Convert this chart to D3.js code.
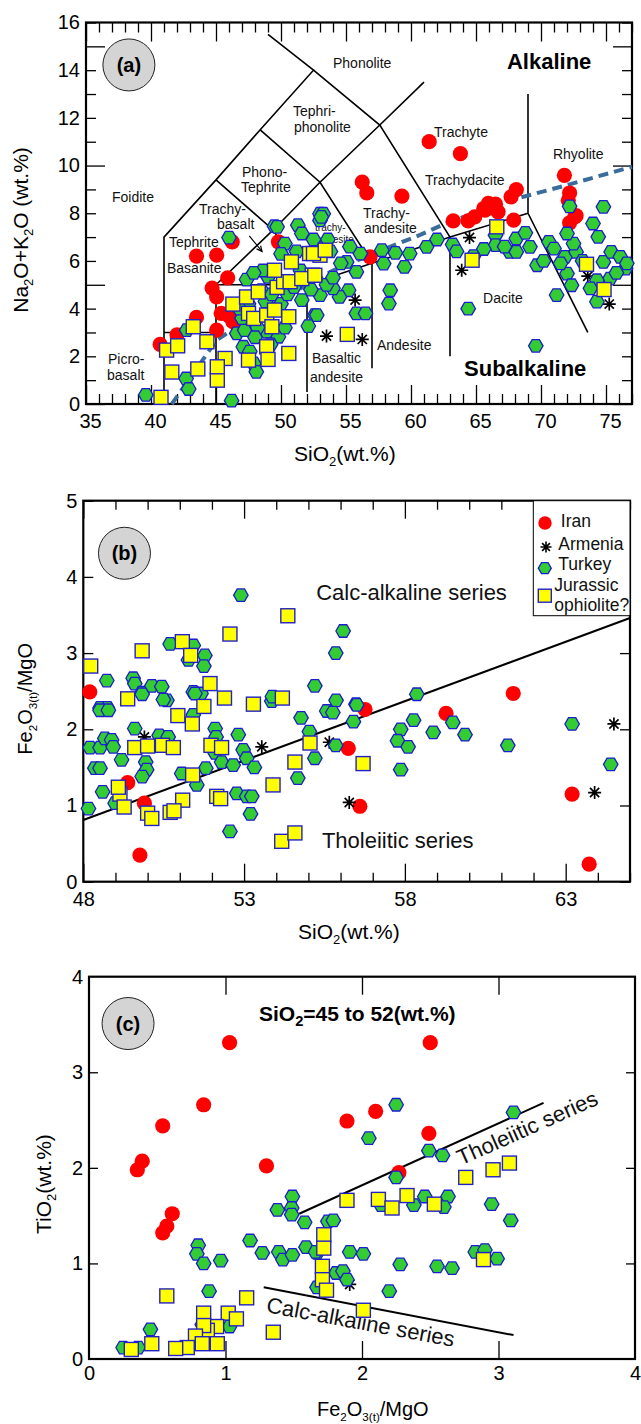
<!DOCTYPE html>
<html>
<head>
<meta charset="utf-8">
<title>Geochemical discrimination diagrams</title>
<script src="https://cdn.jsdelivr.net/npm/d3@7/dist/d3.min.js"></script>
<style>
  html, body { margin: 0; padding: 0; background: #fff; }
  svg { display: block; font-family: "Liberation Sans", Arial, Helvetica, sans-serif; }
</style>
</head>
<body>
<svg id="fig" width="641" height="1424"></svg>
<script>
// ================= DATA =================
// (a) Total alkali vs silica: [SiO2, Na2O+K2O]
const tasIran = [[40.7,2.5],[42.0,2.9],[43.5,3.63],[43.5,6.2],[45.05,6.24],[46.25,6.8],[45.9,5.29],[44.7,4.86],[45.05,4.49],[45.4,3.8],[45.05,3.1],[46.3,3.45],[46.0,3.7],[49.8,6.8],[56.85,6.17],[61.4,11.0],[63.8,10.5],[56.25,9.31],[56.6,8.85],[59.3,8.72],[68.1,8.99],[67.7,8.69],[65.95,8.41],[66.5,8.38],[66.7,8.06],[65.7,8.13],[67.9,7.71],[63.25,7.68],[64.4,7.68],[64.9,7.85],[65.6,8.2],[71.8,9.59],[72.2,8.85],[72.1,8.54],[72.6,7.85],[72.2,7.6],[72.7,7.9]];
const tasArmenia = [[64.5,6.98],[63.9,5.61],[55.7,4.36],[53.5,2.85],[56.25,2.71],[73.6,5.36],[75.25,4.19]];
const tasTurkey = [[39.6,0.38],[42.7,1.07],[42.9,0.63],[46.2,0.14],[46.0,6.98],[42.75,3.1],[46.6,2.96],[47.1,2.4],[47.2,3.1],[47.9,1.7],[48.1,1.35],[48.9,3.03],[49.8,2.82],[47.35,5.22],[48.5,4.77],[49.0,5.33],[49.5,7.46],[50.3,6.73],[51.3,7.5],[51.6,7.15],[53.0,7.98],[51.6,4.36],[52.6,3.73],[52.1,3.27],[52.0,5.33],[53.0,4.57],[53.25,7.98],[53.0,7.7],[56.1,6.31],[55.8,5.54],[55.2,4.77],[54.5,4.49],[55.8,3.8],[56.5,3.8],[52.75,3.73],[54.0,4.85],[55.05,5.96],[57.75,6.45],[57.9,5.89],[58.8,6.34],[59.9,6.31],[59.5,5.75],[61.2,6.59],[63.2,6.69],[58.4,4.77],[58.3,4.21],[64.4,4.0],[66.5,7.08],[66.5,6.66],[67.6,6.38],[68.1,6.94],[68.8,7.18],[69.15,6.59],[68.1,6.38],[69.7,5.82],[70.6,6.8],[71.0,6.52],[71.85,6.17],[72.7,6.38],[72.5,6.73],[72.0,5.47],[72.35,4.98],[71.2,4.57],[72.0,7.15],[74.0,7.57],[74.4,7.01],[74.8,5.96],[75.4,6.38],[76.1,6.17],[76.5,5.68],[76.6,5.9],[75.3,5.26],[74.3,5.19],[74.3,4.29],[73.8,4.85],[69.6,2.44],[74.8,8.27],[72.2,8.29],[49.7,7.43],[53.1,7.85],[47.5,4.2],[48.2,3.2],[48.8,4.3],[49.3,4.6],[50.0,4.2],[50.5,4.6],[51.0,4.9],[51.5,5.6],[52.3,4.8],[53.5,5.0],[54.0,5.3],[54.6,5.9],[53.8,6.4],[55.3,6.6],[51.2,6.4],[50.0,6.3],[48.6,5.6],[47.9,5.5],[47.0,3.6],[48.0,2.8],[49.2,2.5],[47.6,2.2],[50.3,3.2],[46.8,4.0],[63.5,6.4],[64.8,6.2],[65.6,6.5],[67.2,6.6],[62.0,6.9],[70.2,6.0],[71.5,5.9],[73.2,6.0],[75.8,5.5],[53.6,6.9],[52.5,6.9]];
const tasJurassic = [[40.77,0.28],[41.2,2.26],[42.05,2.44],[43.25,3.24],[44.3,2.61],[41.6,1.34],[43.6,1.47],[45.1,1.0],[45.7,1.91],[45.1,1.56],[46.3,4.19],[47.35,4.49],[48.25,4.7],[47.5,3.8],[47.9,3.59],[48.9,3.73],[49.5,3.94],[49.7,4.89],[50.2,5.13],[49.5,5.61],[50.8,5.96],[50.7,5.13],[50.6,3.66],[49.3,3.24],[47.5,1.84],[48.9,2.4],[49.0,1.87],[50.6,2.12],[52.2,6.31],[53.0,6.24],[52.4,5.4],[51.6,5.26],[52.5,6.31],[52.6,5.4],[53.4,6.45],[66.6,7.43],[64.7,6.03],[73.5,5.86],[74.85,4.8],[55.1,2.92]];

// TAS field boundaries (SiO2, Na2O+K2O)
const tasBoundaries = [
  [[41,0],[41,7],[45,9.4],[48.4,11.5],[52.5,14],[49,15.5]],
  [[41,3],[45,3]],
  [[45,0],[45,5],[52,5]],
  [[45,5],[49.4,7.3],[53,9.3],[57.6,11.7],[61,13.5]],
  [[45,9.4],[49.4,7.3],[52,5],[57,5.9],[63,7],[69,8]],
  [[48.4,11.5],[53,9.3],[57,5.9]],
  [[52.5,14],[57.6,11.7],[63,7]],
  [[52,5],[52,0.5]],
  [[57,5.9],[57,1.5]],
  [[63,7],[63,2]],
  [[69,8],[69,13]],
  [[69,8],[73.6,3]]
];
// Alkaline / subalkaline divide
const alkalineDivide = [[41.6,0],[45.05,2.68],[46.5,3.2],[50,4.4],[54,5.6],[58.1,6.53],[60.7,7.09],[62.7,7.58],[67.6,8.54],[72,9.18],[77,9.95]];

const tasFieldNames = [
  {t:"Phonolite", x:54.0, y:14.09}, {t:"Tephri-", x:50.92, y:12.06}, {t:"phonolite", x:51.0, y:11.39},
  {t:"Phono-", x:47.0, y:9.54}, {t:"Tephrite", x:46.92, y:8.88}, {t:"Foidite", x:37.0, y:8.49},
  {t:"Trachy-", x:43.69, y:7.98}, {t:"basalt", x:45.08, y:7.33}, {t:"Tephrite", x:41.38, y:6.6},
  {t:"Basanite", x:41.23, y:5.49}, {t:"Picro-", x:36.69, y:1.68}, {t:"basalt", x:36.62, y:1.02},
  {t:"Basaltic", x:52.38, y:1.72}, {t:"andesite", x:52.23, y:0.94}, {t:"Andesite", x:57.38, y:2.27},
  {t:"Dacite", x:65.54, y:4.24}, {t:"Trachy-", x:56.31, y:7.82}, {t:"andesite", x:56.38, y:7.16},
  {t:"Trachydacite", x:61.08, y:9.19}, {t:"Trachyte", x:61.77, y:11.21}, {t:"Rhyolite", x:70.92, y:10.28}
];
const tasSmallNames = [{t:"trachy-", x:52.62, y:7.26}, {t:"andesite", x:52.69, y:6.77}];
const tasSeriesNames = [{t:"Alkaline", x:67.38, y:14.04}, {t:"Subalkaline", x:64.08, y:1.17}];
const tasArrow = [[47.56,7.05],[48.54,6.40]];

// (b) Fe2O3(t)/MgO vs SiO2: [SiO2, Fe2O3/MgO]
const feIran = [[48.2,2.49],[49.38,1.30],[49.9,1.03],[49.76,0.35],[56.76,2.26],[56.24,1.75],[56.6,0.99],[59.28,2.21],[61.37,2.47],[63.2,1.15],[63.73,0.23]];
const feArmenia = [[49.9,1.9],[53.55,1.77],[55.65,1.83],[56.27,1.04],[64.5,2.07],[63.9,1.17]];
const feTurkey = [[52.9,3.76],[50.7,3.12],[51.42,3.10],[51.27,2.91],[51.78,2.97],[51.75,2.83],[48.73,2.64],[49.55,2.67],[49.6,2.60],[49.82,2.48],[50.13,2.57],[50.44,2.56],[50.6,2.38],[51.42,2.49],[51.66,2.47],[55.2,2.57],[53.86,2.37],[48.52,2.28],[48.75,2.28],[56.08,3.29],[55.85,3.0],[55.86,2.38],[56.48,2.33],[58.37,2.46],[48.52,2.25],[48.78,2.25],[49.83,2.46],[50.49,2.39],[51.47,2.47],[48.21,1.76],[48.52,1.76],[48.67,1.88],[48.88,1.86],[48.93,1.77],[48.36,1.49],[48.52,1.49],[48.6,1.18],[48.16,0.96],[48.99,1.03],[49.6,2.01],[49.19,1.60],[49.94,1.57],[49.97,1.47],[49.83,1.38],[50.36,1.92],[50.64,1.90],[51.06,1.42],[51.53,1.27],[51.42,2.19],[52.1,2.01],[52.13,1.90],[52.1,1.69],[52.3,1.57],[51.81,1.49],[52.66,1.53],[52.82,1.93],[52.97,1.73],[53.08,1.62],[53.32,1.50],[52.77,1.16],[53.08,1.12],[53.24,1.12],[53.2,0.89],[52.56,0.66],[53.88,2.43],[54.77,2.15],[55.03,1.97],[55.2,1.62],[54.67,1.36],[55.57,2.24],[55.76,2.22],[56.5,2.32],[56.4,2.10],[58.27,2.12],[57.87,2.0],[57.77,1.85],[58.1,1.77],[57.87,1.47],[58.88,1.96],[59.49,2.09],[59.87,1.93],[55.85,1.79],[61.2,1.79],[63.2,2.07],[64.4,1.54]];
const feJurassic = [[48.23,2.83],[49.83,3.03],[51.08,3.15],[51.34,2.97],[52.56,3.25],[54.36,3.49],[49.38,2.40],[51.94,2.60],[52.39,2.41],[53.29,2.33],[54.19,2.41],[51.75,2.30],[50.94,2.18],[51.39,2.07],[49.6,1.76],[50.0,1.78],[50.46,1.79],[50.8,1.76],[51.97,1.79],[52.3,1.76],[55.05,1.82],[54.58,1.57],[53.9,1.27],[51.4,1.40],[51.09,1.07],[49.14,1.15],[49.09,1.24],[49.27,0.98],[50.0,0.90],[50.13,0.83],[50.7,0.91],[50.82,0.93],[52.15,1.12],[52.27,1.09],[54.17,0.53],[54.58,0.64],[56.7,1.55]];
const feDivide = [[48,0.81],[65,3.46]];
const seriesNamesB = [{t:"Calc-alkaline series", x:55.24, y:3.70}, {t:"Tholeiitic series", x:55.42, y:0.44}];
const legendNames = ["Iran","Armenia","Turkey","Jurassic","ophiolite?"];

// (c) TiO2 vs Fe2O3(t)/MgO, SiO2 = 45-52 wt.%
const tiIran = [[1.03,3.31],[0.84,2.66],[0.54,2.44],[0.39,2.07],[0.354,1.98],[1.30,2.02],[2.50,3.31],[1.89,2.49],[2.10,2.59],[2.49,2.36],[2.27,1.95],[0.61,1.52],[0.57,1.39],[0.54,1.32]];
const tiArmenia = [[1.91,0.78]];
const tiTurkey = [[2.25,2.66],[2.05,2.31],[3.11,2.58],[2.49,2.18],[2.59,2.13],[2.25,1.90],[1.49,1.70],[1.38,1.56],[1.485,1.58],[1.485,1.51],[1.58,1.43],[1.75,1.44],[1.18,1.24],[1.27,1.11],[1.39,1.12],[1.42,1.04],[1.49,1.09],[1.59,1.17],[1.67,1.11],[1.67,0.75],[0.80,1.19],[0.79,1.10],[0.84,1.0],[0.965,1.03],[0.88,0.71],[0.45,0.31],[0.25,0.12],[0.36,0.12],[1.03,0.34],[0.83,0.36],[1.79,1.45],[1.66,1.12],[1.91,1.12],[2.01,1.10],[1.81,0.90],[1.86,0.92],[1.89,0.83],[2.28,0.99],[2.20,0.71],[2.55,0.97],[2.66,0.95],[2.46,1.70],[2.63,1.70],[2.38,1.61],[2.60,1.59],[2.14,1.61],[2.95,1.62],[3.09,1.45],[2.83,1.12],[2.90,1.14],[2.99,1.05]];
const tiJurassic = [[2.76,1.90],[2.96,1.98],[3.08,2.05],[0.57,0.66],[1.155,0.64],[0.84,0.48],[1.02,0.48],[1.08,0.42],[0.935,0.34],[0.867,0.30],[0.84,0.35],[0.78,0.24],[0.83,0.16],[0.94,0.16],[0.72,0.12],[0.635,0.11],[0.46,0.16],[0.31,0.10],[1.35,0.28],[1.72,1.30],[1.72,1.16],[1.71,0.97],[1.71,0.83],[1.74,0.72],[1.89,1.66],[2.12,1.67],[2.22,1.58],[2.33,1.71],[2.53,1.62],[2.89,1.04],[2.01,0.51]];
const tiTholeiiticLine = [[1.54,1.52],[3.33,2.68]];
const tiCalcAlkLine = [[1.28,0.75],[3.11,0.25]];

// ================= DRAWING =================
const FONT = '"Liberation Sans", Arial, Helvetica, sans-serif';
const svg = d3.select('#fig');
const COL = { iran:'#ff0000', hexFill:'#33cc33', hexStroke:'#1c1cd0', sqFill:'#ffff00', sqStroke:'#2222c4', dash:'#3b6d9c' };

function hexPath(w, h) {
  return `M${-w/2},0L${-w/4},${-h/2}L${w/4},${-h/2}L${w/2},0L${w/4},${h/2}L${-w/4},${h/2}Z`;
}
function starPath(r) {
  const d = r * Math.SQRT1_2;
  return `M${-r},0H${r}M0,${-r}V${r}M${-d},${-d}L${d},${d}M${-d},${d}L${d},${-d}`;
}

function addAxis(g, kind, scale, shift, values, size, withLabels, pad, dx) {
  const make = {bottom:d3.axisBottom, top:d3.axisTop, left:d3.axisLeft, right:d3.axisRight}[kind];
  const gen = make(scale).tickValues(values).tickSize(-size).tickPadding(pad || 6)
    .tickFormat(withLabels ? d3.format('d') : () => '');
  const tr = (kind === 'bottom' || kind === 'top') ? `translate(0,${shift})` : `translate(${shift},0)`;
  const a = g.append('g').attr('transform', tr).call(gen);
  a.select('.domain').remove();
  a.selectAll('line').attr('stroke', '#000').attr('stroke-width', 1.3);
  a.selectAll('text').attr('font-size', 20).attr('font-family', FONT).attr('fill', '#000');
  if (dx) a.selectAll('text').attr('dx', dx);
  return a;
}

function rich(text, parts, size, subScale) {
  const s = subScale || 0.62;
  let down = false;
  parts.forEach(([str, sub]) => {
    const t = text.append('tspan').text(str).attr('font-size', sub ? size * s : size);
    if (sub && !down) { t.attr('dy', size * 0.26); down = true; }
    else if (!sub && down) { t.attr('dy', -size * 0.26); down = false; }
  });
}

function badge(g, cx, cy, label) {
  g.append('circle').attr('cx', cx).attr('cy', cy).attr('r', 26)
    .attr('fill', '#d4d4d4').attr('stroke', '#222').attr('stroke-width', 1);
  g.append('text').attr('x', cx).attr('y', cy + 7).attr('text-anchor', 'middle')
    .attr('font-size', 20).attr('font-weight', 'bold').attr('font-family', FONT).text(label);
}

function drawPoints(g, x, y, sets, sz) {
  g.append('g').selectAll('circle').data(sets.iran).join('circle')
    .attr('cx', d => x(d[0])).attr('cy', d => y(d[1])).attr('r', sz.r).attr('fill', COL.iran);
  g.append('g').selectAll('path').data(sets.armenia).join('path')
    .attr('transform', d => `translate(${x(d[0])},${y(d[1])})`).attr('d', starPath(sz.star))
    .attr('fill', 'none').attr('stroke', '#000').attr('stroke-width', 1.7);
  g.append('g').selectAll('path').data(sets.turkey).join('path')
    .attr('transform', d => `translate(${x(d[0])},${y(d[1])})`).attr('d', hexPath(sz.hw, sz.hh))
    .attr('fill', COL.hexFill).attr('stroke', COL.hexStroke).attr('stroke-width', 1.3);
  g.append('g').selectAll('rect').data(sets.jura).join('rect')
    .attr('x', d => x(d[0]) - sz.sq / 2).attr('y', d => y(d[1]) - sz.sq / 2)
    .attr('width', sz.sq).attr('height', sz.sq)
    .attr('fill', COL.sqFill).attr('stroke', COL.sqStroke).attr('stroke-width', 1.4);
}

function frame(g, x, y) {
  g.append('rect').attr('x', x.range()[0]).attr('y', y.range()[1])
    .attr('width', x.range()[1] - x.range()[0]).attr('height', y.range()[0] - y.range()[1])
    .attr('fill', 'none').attr('stroke', '#000').attr('stroke-width', 2.2);
}

const line = (x, y) => d3.line().x(d => x(d[0])).y(d => y(d[1]));
const SZ = { r: 7.6, star: 6.5, hw: 14.5, hh: 12.5, sq: 14 };

// ---------- (a) TAS ----------
{
  const x = d3.scaleLinear([35, 77], [86, 632]);
  const y = d3.scaleLinear([0, 16], [404, 22.5]);
  const g = svg.append('g');

  const xMinor = d3.range(35, 78).filter(v => v % 5 !== 0);
  const xMajor = d3.range(35, 77, 5);
  const yMinor = d3.range(0, 17).filter(v => v % 5 !== 0);
  const yMajor = [0, 5, 10, 15];
  addAxis(g, 'bottom', x, 404, xMinor, 10, false);
  addAxis(g, 'bottom', x, 404, xMajor, 19, true, 10, 4);
  addAxis(g, 'top', x, 22.5, xMinor, 10, false);
  addAxis(g, 'top', x, 22.5, xMajor, 19, false);
  addAxis(g, 'left', y, 86, yMinor, 10, false);
  addAxis(g, 'left', y, 86, yMajor, 19, false);
  addAxis(g, 'left', y, 86, d3.range(0, 17, 2), 0, true, 6);
  addAxis(g, 'right', y, 632, yMinor, 10, false);
  addAxis(g, 'right', y, 632, yMajor, 19, false);
  frame(g, x, y);

  g.append('g').selectAll('path').data(tasBoundaries).join('path')
    .attr('d', line(x, y)).attr('fill', 'none').attr('stroke', '#000').attr('stroke-width', 1.6);

  g.selectAll('text.field').data(tasFieldNames).join('text').attr('class', 'field')
    .attr('x', d => x(d.x)).attr('y', d => y(d.y)).attr('font-size', 14).attr('fill', '#111').text(d => d.t);
  g.selectAll('text.small').data(tasSmallNames).join('text').attr('class', 'small')
    .attr('x', d => x(d.x)).attr('y', d => y(d.y)).attr('font-size', 10).attr('fill', '#111').text(d => d.t);
  g.selectAll('text.series').data(tasSeriesNames).join('text').attr('class', 'series')
    .attr('x', d => x(d.x)).attr('y', d => y(d.y)).attr('font-size', 22).attr('font-weight', 'bold').text(d => d.t);

  // arrow from the trachybasalt label
  const [p0, p1] = tasArrow.map(d => [x(d[0]), y(d[1])]);
  g.append('line').attr('x1', p0[0]).attr('y1', p0[1]).attr('x2', p1[0]).attr('y2', p1[1])
    .attr('stroke', '#000').attr('stroke-width', 1.2);
  const ang = Math.atan2(p1[1] - p0[1], p1[0] - p0[0]);
  const hl = 6, hw = 0.45;
  g.append('path').attr('d', `M${p1[0] - hl*Math.cos(ang - hw)},${p1[1] - hl*Math.sin(ang - hw)}L${p1[0]},${p1[1]}L${p1[0] - hl*Math.cos(ang + hw)},${p1[1] - hl*Math.sin(ang + hw)}`)
    .attr('fill', 'none').attr('stroke', '#000').attr('stroke-width', 1.2);

  g.append('path').datum(alkalineDivide).attr('d', line(x, y))
    .attr('fill', 'none').attr('stroke', COL.dash).attr('stroke-width', 4).attr('stroke-dasharray', '10,6');

  drawPoints(g, x, y, { iran: tasIran, armenia: tasArmenia, turkey: tasTurkey, jura: tasJurassic }, SZ);

  badge(g, x(38.3), y(14.22), '(a)');

  const yt = g.append('text').attr('transform', `translate(28,${y(7.3)}) rotate(-90)`)
    .attr('text-anchor', 'middle').attr('font-family', FONT);
  rich(yt, [['Na',0],['2',1],['O+K',0],['2',1],['O (wt.%)',0]], 21);
  const xt = g.append('text').attr('x', 294).attr('y', 461).attr('font-family', FONT);
  rich(xt, [['SiO',0],['2',1],['(wt.%)',0]], 21);
}

// ---------- (b) Fe2O3/MgO vs SiO2 ----------
{
  const x = d3.scaleLinear([48, 65], [83.3, 630]);
  const y = d3.scaleLinear([0, 5], [881.7, 500.7]);
  const g = svg.append('g');

  const xMajor = [48, 53, 58, 63];
  const xMinor = d3.range(48, 66).filter(v => !xMajor.includes(v));
  addAxis(g, 'bottom', x, 881.7, xMinor, 9, false);
  addAxis(g, 'bottom', x, 881.7, xMajor, 18, true, 10);
  addAxis(g, 'top', x, 500.7, xMinor, 9, false);
  addAxis(g, 'top', x, 500.7, xMajor, 18, false);
  addAxis(g, 'left', y, 83.3, d3.range(0, 6), 10, true, 6);
  addAxis(g, 'right', y, 630, d3.range(0, 6), 10, false);
  frame(g, x, y);

  g.append('path').datum(feDivide).attr('d', line(x, y))
    .attr('fill', 'none').attr('stroke', '#000').attr('stroke-width', 2);

  g.selectAll('text.series').data(seriesNamesB).join('text').attr('class', 'series')
    .attr('x', d => x(d.x)).attr('y', d => y(d.y)).attr('font-size', 22).attr('fill', '#111').text(d => d.t);

  drawPoints(g, x, y, { iran: feIran, armenia: feArmenia, turkey: feTurkey, jura: feJurassic }, SZ);

  // legend
  const L = g.append('g').attr('transform', `translate(533.3,500.7)`);
  L.append('rect').attr('x', 0).attr('y', 0).attr('width', 630 - 533.3).attr('height', 115)
    .attr('fill', '#fff').attr('stroke', '#000').attr('stroke-width', 1);
  L.append('circle').attr('cx', 11.7).attr('cy', 22.3).attr('r', 6.7).attr('fill', COL.iran);
  L.append('path').attr('transform', 'translate(12.7,46.3)').attr('d', starPath(5.5))
    .attr('stroke', '#000').attr('stroke-width', 1.6).attr('fill', 'none');
  L.append('path').attr('transform', 'translate(11.5,67.5)').attr('d', hexPath(13, 11))
    .attr('fill', COL.hexFill).attr('stroke', COL.hexStroke).attr('stroke-width', 1.3);
  L.append('rect').attr('x', 5).attr('y', 88.5).attr('width', 13).attr('height', 13)
    .attr('fill', COL.sqFill).attr('stroke', COL.sqStroke).attr('stroke-width', 1.4);
  const lx = [27.5, 25, 25, 21, 21], ly = [26.5, 49.5, 69, 90.5, 110.5];
  legendNames.forEach((t, i) => L.append('text').attr('x', lx[i]).attr('y', ly[i])
    .attr('font-size', 17.5).attr('fill', '#111').text(t));

  badge(g, x(49.28), y(4.31), '(b)');

  const yt = g.append('text').attr('transform', `translate(32,${y(2.4)}) rotate(-90)`)
    .attr('text-anchor', 'middle').attr('font-family', FONT);
  rich(yt, [['Fe',0],['2',1],['O',0],['3(t)',1],['/MgO',0]], 20, 0.58);
  const xt = g.append('text').attr('x', 298).attr('y', 939).attr('font-family', FONT);
  rich(xt, [['SiO',0],['2',1],['(wt.%)',0]], 21);
}

// ---------- (c) TiO2 vs Fe2O3/MgO ----------
{
  const x = d3.scaleLinear([0, 4], [89, 635]);
  const y = d3.scaleLinear([0, 4], [1359, 976.7]);
  const g = svg.append('g');

  addAxis(g, 'bottom', x, 1359, [1, 2, 3], 18, false);
  addAxis(g, 'bottom', x, 1359, [0, 1, 2, 3, 4], 0, true, 7);
  addAxis(g, 'top', x, 976.7, [1, 2, 3], 18, false);
  addAxis(g, 'left', y, 89, [1, 2, 3], 9, false);
  addAxis(g, 'left', y, 89, [0, 1, 2, 3, 4], 0, true, 6);
  addAxis(g, 'right', y, 635, [1, 2, 3], 9, false);
  frame(g, x, y);

  [tiTholeiiticLine, tiCalcAlkLine].forEach(seg => g.append('path').datum(seg).attr('d', line(x, y))
    .attr('fill', 'none').attr('stroke', '#000').attr('stroke-width', 2));

  g.append('text').attr('transform', `translate(${x(3.21)},${y(2.42)}) rotate(-24)`)
    .attr('text-anchor', 'middle').attr('dy', '0.35em').attr('font-size', 22).attr('fill', '#111').text('Tholeiitic series');
  g.append('text').attr('transform', `translate(${x(1.98)},${y(0.31)}) rotate(10.5)`)
    .attr('text-anchor', 'middle').attr('font-size', 22).attr('fill', '#111').text('Calc-alkaline series');

  const st = g.append('text').attr('x', x(1.245)).attr('y', y(3.54)).attr('font-weight', 'bold').attr('font-family', FONT);
  rich(st, [['SiO',0],['2',1],['=45 to 52(wt.%)',0]], 21, 0.7);

  drawPoints(g, x, y, { iran: tiIran, armenia: tiArmenia, turkey: tiTurkey, jura: tiJurassic }, SZ);

  badge(g, x(0.286), y(3.51), '(c)');

  const yt = g.append('text').attr('transform', `translate(51,${y(1.83)}) rotate(-90)`)
    .attr('text-anchor', 'middle').attr('font-family', FONT);
  rich(yt, [['TiO',0],['2',1],['(wt.%)',0]], 21);
  const xt = g.append('text').attr('x', 317).attr('y', 1416).attr('font-family', FONT);
  rich(xt, [['Fe',0],['2',1],['O',0],['3(t)',1],['/MgO',0]], 20, 0.58);
}
</script>
</body>
</html>
